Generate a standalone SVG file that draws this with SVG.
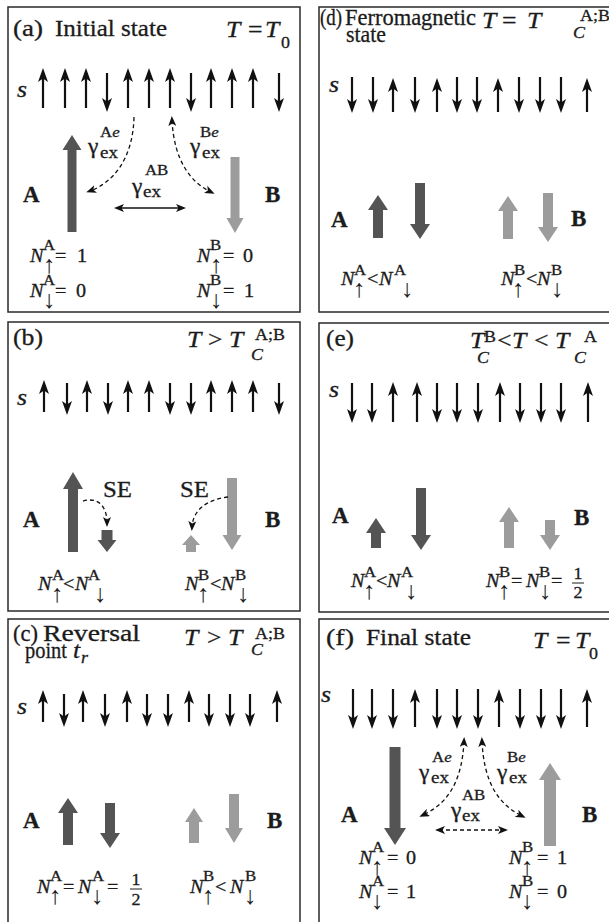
<svg xmlns="http://www.w3.org/2000/svg" width="609" height="922" viewBox="0 0 609 922" font-family="'Liberation Serif', serif">
<style>
.box{fill:none;stroke:#2a2a2a;stroke-width:1.5}
text{font-family:'Liberation Serif',serif;fill:#1b1b1b;stroke:#1b1b1b;stroke-width:0.3}
.ti{font-size:23px}
.tm{font-size:23px}
.it{font-style:italic}
.bd{font-weight:bold;font-size:23px}
.sm{font-size:16px}
.sup{font-size:15px}
.n{font-size:18px}
text.ar{font-size:25px;text-anchor:middle;stroke-width:0}
.g{font-size:21px}
.ex{font-size:17px}
.mid{text-anchor:middle}
.spin line{stroke:#111;stroke-width:2.2;marker-end:url(#sh)}
.dk{fill:#545454}
.lt{fill:#9c9c9c}
.dash{fill:none;stroke:#111;stroke-width:1.3;stroke-dasharray:4 3}
.solid{fill:none;stroke:#111;stroke-width:1.5}
.bar{stroke:#1b1b1b;stroke-width:1}
</style>
<defs>
<marker id="sh" viewBox="0 0 14 10" refX="9" refY="5" markerWidth="14" markerHeight="10" markerUnits="userSpaceOnUse" orient="auto"><path d="M0,0 L14,5 L0,10 L3.5,5 Z" fill="#111"/></marker>
<marker id="dh" viewBox="0 0 10 8" refX="6" refY="4" markerWidth="10" markerHeight="8" markerUnits="userSpaceOnUse" orient="auto-start-reverse"><path d="M0,0 L10,4 L0,8 L2.5,4 Z" fill="#111"/></marker>
</defs>
<rect width="609" height="922" fill="#fff"/>

<g id="panel-a">
<rect class="box" x="8" y="7" width="292" height="305"/>
<text class="ti" x="13" y="36" textLength="30" lengthAdjust="spacingAndGlyphs">(a)</text>
<text class="ti" x="55" y="36" textLength="112" lengthAdjust="spacingAndGlyphs">Initial state</text>
<text class="tm it" transform="matrix(1.12 0 0 1 226 37)">T</text><text class="tm" transform="matrix(1.12 0 0 1 248 37)">=</text><text class="tm it" transform="matrix(1.12 0 0 1 265 37)">T</text><text class="sm" transform="matrix(1.12 0 0 1 281 48)">0</text>
<text class="ti it" transform="matrix(1.12 0 0 1 17 97)">s</text>
<g class="spin">
<line x1="43" y1="108" x2="43" y2="73"/><line x1="65" y1="108" x2="65" y2="73"/><line x1="86" y1="108" x2="86" y2="73"/><line x1="107" y1="73" x2="107" y2="107"/>
<line x1="128" y1="108" x2="128" y2="73"/><line x1="149" y1="108" x2="149" y2="73"/><line x1="170" y1="108" x2="170" y2="73"/><line x1="191" y1="73" x2="191" y2="107"/>
<line x1="211" y1="108" x2="211" y2="73"/><line x1="232" y1="108" x2="232" y2="73"/><line x1="253" y1="108" x2="253" y2="73"/><line x1="279" y1="73" x2="279" y2="107"/>
</g>
<polygon class="dk" points="72,135 81.5,150 76.5,150 76.5,232 67.5,232 67.5,150 62.5,150"/>
<polygon class="lt" points="235,233 243.5,218 239.5,218 239.5,157 230.5,157 230.5,218 226.5,218"/>
<text class="bd" x="23" y="202">A</text><text class="bd" x="265" y="202">B</text>
<text class="sup" transform="matrix(1.12 0 0 1 100 137)">A<tspan class="it">e</tspan></text><text class="g" transform="matrix(1.12 0 0 1 88 153)">γ</text><text class="ex" transform="matrix(1.12 0 0 1 100 158)">ex</text>
<text class="sup" transform="matrix(1.12 0 0 1 200 137)">B<tspan class="it">e</tspan></text><text class="g" transform="matrix(1.12 0 0 1 190 153)">γ</text><text class="ex" transform="matrix(1.12 0 0 1 202 158)">ex</text>
<text class="sup" transform="matrix(1.12 0 0 1 145 175)">AB</text><text class="g" transform="matrix(1.12 0 0 1 132 193)">γ</text><text class="ex" transform="matrix(1.12 0 0 1 143 197)">ex</text>
<text class="n it" transform="matrix(1.12 0 0 1 30 262)">N</text><text class="sup" transform="matrix(1.12 0 0 1 43 250)">A</text><text class="ar" x="49" y="273">↑</text><text class="n" transform="matrix(1.12 0 0 1 55 262)">=</text><text class="n" transform="matrix(1.12 0 0 1 77 262)">1</text>
<text class="n it" transform="matrix(1.12 0 0 1 30 297)">N</text><text class="sup" transform="matrix(1.12 0 0 1 43 285)">A</text><text class="ar" x="49" y="308">↓</text><text class="n" transform="matrix(1.12 0 0 1 55 297)">=</text><text class="n" transform="matrix(1.12 0 0 1 76 297)">0</text>
<text class="n it" transform="matrix(1.12 0 0 1 197 262)">N</text><text class="sup" transform="matrix(1.12 0 0 1 210 250)">B</text><text class="ar" x="216" y="273">↑</text><text class="n" transform="matrix(1.12 0 0 1 223 262)">=</text><text class="n" transform="matrix(1.12 0 0 1 243 262)">0</text>
<text class="n it" transform="matrix(1.12 0 0 1 197 297)">N</text><text class="sup" transform="matrix(1.12 0 0 1 210 285)">B</text><text class="ar" x="216" y="308">↓</text><text class="n" transform="matrix(1.12 0 0 1 223 297)">=</text><text class="n" transform="matrix(1.12 0 0 1 244 297)">1</text>
</g>

<g id="panel-d">
<rect class="box" x="319" y="7" width="300" height="305"/>
<text class="ti" x="320" y="25" textLength="22" lengthAdjust="spacingAndGlyphs">(d)</text>
<text class="ti" x="345" y="25" textLength="131" lengthAdjust="spacingAndGlyphs">Ferromagnetic</text>
<text class="ti" x="346" y="42" textLength="40" lengthAdjust="spacingAndGlyphs">state</text>
<text class="tm it" transform="matrix(1.12 0 0 1 482 28)">T</text><text class="tm" transform="matrix(1.12 0 0 1 502 28)">=</text><text class="tm it" transform="matrix(1.12 0 0 1 527 28)">T</text><text class="sm it" transform="matrix(1.12 0 0 1 573 38)">C</text><text class="sm" transform="matrix(1.12 0 0 1 580 21)">A;B</text>
<text class="ti it" transform="matrix(1.12 0 0 1 329 92)">s</text>
<g class="spin">
<line x1="352" y1="77" x2="352" y2="108"/><line x1="373" y1="77" x2="373" y2="108"/><line x1="393" y1="112" x2="393" y2="83"/><line x1="415" y1="77" x2="415" y2="108"/>
<line x1="437" y1="112" x2="437" y2="83"/><line x1="457" y1="77" x2="457" y2="108"/><line x1="477" y1="77" x2="477" y2="108"/><line x1="498" y1="112" x2="498" y2="83"/>
<line x1="519" y1="77" x2="519" y2="108"/><line x1="540" y1="77" x2="540" y2="108"/><line x1="561" y1="77" x2="561" y2="108"/><line x1="587" y1="112" x2="587" y2="83"/>
</g>
<polygon class="dk" points="378,195 388,210 383,210 383,238 373,238 373,210 368,210"/>
<polygon class="dk" points="420,239 430,224 425,224 425,183 415,183 415,224 410,224"/>
<polygon class="lt" points="508,196 518,211 513,211 513,239 503,239 503,211 498,211"/>
<polygon class="lt" points="548,242 558,227 553,227 553,193 543,193 543,227 538,227"/>
<text class="bd" x="331" y="227">A</text><text class="bd" x="571" y="226">B</text>
<text class="n it" transform="matrix(1.12 0 0 1 341 285)">N</text><text class="sup" transform="matrix(1.12 0 0 1 354 275)">A</text><text class="ar" x="359" y="297">↑</text><text class="n" transform="matrix(1.12 0 0 1 367 285)">&lt;</text><text class="n it" transform="matrix(1.12 0 0 1 379 285)">N</text><text class="sup" transform="matrix(1.12 0 0 1 394 275)">A</text><text class="ar" x="407" y="297">↓</text>
<text class="n it" transform="matrix(1.12 0 0 1 501 285)">N</text><text class="sup" transform="matrix(1.12 0 0 1 514 275)">B</text><text class="ar" x="518" y="297">↑</text><text class="n" transform="matrix(1.12 0 0 1 526 285)">&lt;</text><text class="n it" transform="matrix(1.12 0 0 1 537 285)">N</text><text class="sup" transform="matrix(1.12 0 0 1 551 275)">B</text><text class="ar" x="557" y="297">↓</text>
</g>

<g id="panel-b">
<rect class="box" x="8" y="322" width="292" height="289"/>
<text class="ti" x="13" y="345" textLength="30" lengthAdjust="spacingAndGlyphs">(b)</text>
<text class="tm it" transform="matrix(1.12 0 0 1 187 347)">T</text><text class="tm" transform="matrix(1.12 0 0 1 208 347)">&gt;</text><text class="tm it" transform="matrix(1.12 0 0 1 229 347)">T</text><text class="sm it" transform="matrix(1.12 0 0 1 251 360)">C</text><text class="sm" transform="matrix(1.12 0 0 1 255 340)">A;B</text>
<text class="ti it" transform="matrix(1.12 0 0 1 17 405)">s</text>
<g class="spin">
<line x1="44" y1="412" x2="44" y2="385"/><line x1="67" y1="383" x2="67" y2="410"/><line x1="87" y1="412" x2="87" y2="385"/><line x1="108" y1="383" x2="108" y2="410"/>
<line x1="128" y1="412" x2="128" y2="385"/><line x1="149" y1="412" x2="149" y2="385"/><line x1="170" y1="383" x2="170" y2="410"/><line x1="191" y1="383" x2="191" y2="410"/>
<line x1="211" y1="412" x2="211" y2="385"/><line x1="232" y1="412" x2="232" y2="385"/><line x1="253" y1="412" x2="253" y2="385"/><line x1="279" y1="383" x2="279" y2="410"/>
</g>
<polygon class="dk" points="73,472 83,489 78,489 78,552 68,552 68,489 63,489"/>
<polygon class="dk" points="107,552 116.5,540 112.5,540 112.5,530 101.5,530 101.5,540 97.5,540"/>
<polygon class="lt" points="191,535 200,545 196,545 196,552 186,552 186,545 182,545"/>
<polygon class="lt" points="232,550 241.5,535 237,535 237,478 227,478 227,535 222.5,535"/>
<text class="bd" x="23" y="527">A</text><text class="bd" x="265" y="527">B</text>
<text class="ti" x="103" y="497" textLength="29" lengthAdjust="spacingAndGlyphs">SE</text><text class="ti" x="180" y="497" textLength="29" lengthAdjust="spacingAndGlyphs">SE</text>
<text class="n it" transform="matrix(1.12 0 0 1 38 590)">N</text><text class="sup" transform="matrix(1.12 0 0 1 52 580)">A</text><text class="ar" x="57" y="602">↑</text><text class="n" transform="matrix(1.12 0 0 1 63 590)">&lt;</text><text class="n it" transform="matrix(1.12 0 0 1 75 590)">N</text><text class="sup" transform="matrix(1.12 0 0 1 88 580)">A</text><text class="ar" x="100" y="602">↓</text>
<text class="n it" transform="matrix(1.12 0 0 1 185 590)">N</text><text class="sup" transform="matrix(1.12 0 0 1 198 580)">B</text><text class="ar" x="203" y="602">↑</text><text class="n" transform="matrix(1.12 0 0 1 210 590)">&lt;</text><text class="n it" transform="matrix(1.12 0 0 1 221 590)">N</text><text class="sup" transform="matrix(1.12 0 0 1 235 580)">B</text><text class="ar" x="243" y="602">↓</text>
</g>

<g id="panel-e">
<rect class="box" x="319" y="323" width="300" height="289"/>
<text class="ti" x="326" y="346" textLength="28" lengthAdjust="spacingAndGlyphs">(e)</text>
<text class="tm it" transform="matrix(1.12 0 0 1 470 348)">T</text><text class="sm it" transform="matrix(1.12 0 0 1 477 363)">C</text><text class="sm" transform="matrix(1.12 0 0 1 484 342)">B</text><text class="tm" transform="matrix(1.12 0 0 1 497 348)">&lt;</text><text class="tm it" transform="matrix(1.12 0 0 1 512 348)">T</text><text class="tm" transform="matrix(1.12 0 0 1 534 348)">&lt;</text><text class="tm it" transform="matrix(1.12 0 0 1 555 348)">T</text><text class="sm it" transform="matrix(1.12 0 0 1 574 363)">C</text><text class="sm" transform="matrix(1.12 0 0 1 584 342)">A</text>
<text class="ti it" transform="matrix(1.12 0 0 1 329 397)">s</text>
<g class="spin">
<line x1="352" y1="383" x2="352" y2="418"/><line x1="372" y1="383" x2="372" y2="418"/><line x1="393" y1="422" x2="393" y2="387"/><line x1="417" y1="422" x2="417" y2="387"/>
<line x1="437" y1="383" x2="437" y2="418"/><line x1="457" y1="383" x2="457" y2="418"/><line x1="478" y1="383" x2="478" y2="418"/><line x1="500" y1="422" x2="500" y2="387"/>
<line x1="520" y1="383" x2="520" y2="418"/><line x1="541" y1="383" x2="541" y2="418"/><line x1="561" y1="383" x2="561" y2="418"/><line x1="588" y1="422" x2="588" y2="387"/>
</g>
<polygon class="dk" points="376,518 386,533 381,533 381,548 371,548 371,533 366,533"/>
<polygon class="dk" points="421,550 431,535 426,535 426,488 416,488 416,535 411,535"/>
<polygon class="lt" points="509,507 519,522 514,522 514,548 504,548 504,522 499,522"/>
<polygon class="lt" points="550,550 560,535 555,535 555,520 545,520 545,535 540,535"/>
<text class="bd" x="332" y="523">A</text><text class="bd" x="574" y="525">B</text>
<text class="n it" transform="matrix(1.12 0 0 1 351 587)">N</text><text class="sup" transform="matrix(1.12 0 0 1 364 577)">A</text><text class="ar" x="369" y="599">↑</text><text class="n" transform="matrix(1.12 0 0 1 376 587)">&lt;</text><text class="n it" transform="matrix(1.12 0 0 1 387 587)">N</text><text class="sup" transform="matrix(1.12 0 0 1 401 577)">A</text><text class="ar" x="411" y="599">↓</text>
<text class="n it" transform="matrix(1.12 0 0 1 486 587)">N</text><text class="sup" transform="matrix(1.12 0 0 1 499 577)">B</text><text class="ar" x="504" y="599">↑</text><text class="n" transform="matrix(1.12 0 0 1 511 587)">=</text><text class="n it" transform="matrix(1.12 0 0 1 526 587)">N</text><text class="sup" transform="matrix(1.12 0 0 1 539 577)">B</text><text class="ar" x="545" y="599">↓</text><text class="n" transform="matrix(1.12 0 0 1 551 587)">=</text>
<text class="sm mid" transform="matrix(1.12 0 0 1 578 579)">1</text><line class="bar" x1="572" y1="583" x2="584" y2="583"/><text class="sm mid" transform="matrix(1.12 0 0 1 578 598)">2</text>
</g>

<g id="panel-c">
<rect class="box" x="8" y="619" width="292" height="310"/>
<text class="ti" x="13" y="641" textLength="25" lengthAdjust="spacingAndGlyphs">(c)</text>
<text class="ti" x="43" y="641" textLength="97" lengthAdjust="spacingAndGlyphs">Reversal</text>
<text class="ti" x="25" y="658" textLength="42" lengthAdjust="spacingAndGlyphs">point</text><text class="ti it" transform="matrix(1.12 0 0 1 73 658)">t</text><text class="sm it" transform="matrix(1.12 0 0 1 81 663)">r</text>
<text class="tm it" transform="matrix(1.12 0 0 1 184 645)">T</text><text class="tm" transform="matrix(1.12 0 0 1 207 645)">&gt;</text><text class="tm it" transform="matrix(1.12 0 0 1 228 645)">T</text><text class="sm it" transform="matrix(1.12 0 0 1 251 655)">C</text><text class="sm" transform="matrix(1.12 0 0 1 255 639)">A;B</text>
<text class="ti it" transform="matrix(1.12 0 0 1 17 714)">s</text>
<g class="spin">
<line x1="43" y1="722" x2="43" y2="695"/><line x1="64" y1="694" x2="64" y2="722"/><line x1="83" y1="722" x2="83" y2="695"/><line x1="105" y1="694" x2="105" y2="722"/>
<line x1="127" y1="722" x2="127" y2="695"/><line x1="147" y1="694" x2="147" y2="722"/><line x1="168" y1="694" x2="168" y2="722"/><line x1="189" y1="722" x2="189" y2="695"/>
<line x1="209" y1="694" x2="209" y2="722"/><line x1="230" y1="694" x2="230" y2="722"/><line x1="250" y1="694" x2="250" y2="722"/><line x1="277" y1="722" x2="277" y2="695"/>
</g>
<polygon class="dk" points="68,798 78,813 73,813 73,845 63,845 63,813 58,813"/>
<polygon class="dk" points="110,848 120,833 115,833 115,803 105,803 105,833 100,833"/>
<polygon class="lt" points="194,808 203,822 199,822 199,843 189,843 189,822 185,822"/>
<polygon class="lt" points="234,843 243,828 239,828 239,794 229,794 229,828 225,828"/>
<text class="bd" x="23" y="828">A</text><text class="bd" x="267" y="828">B</text>
<text class="n it" transform="matrix(1.12 0 0 1 37 893)">N</text><text class="sup" transform="matrix(1.12 0 0 1 50 881)">A</text><text class="ar" x="55" y="904">↑</text><text class="n" transform="matrix(1.12 0 0 1 63 893)">=</text><text class="n it" transform="matrix(1.12 0 0 1 78 893)">N</text><text class="sup" transform="matrix(1.12 0 0 1 92 881)">A</text><text class="ar" x="97" y="904">↓</text><text class="n" transform="matrix(1.12 0 0 1 107 893)">=</text>
<text class="sm mid" transform="matrix(1.12 0 0 1 136 885)">1</text><line class="bar" x1="130" y1="889" x2="142" y2="889"/><text class="sm mid" transform="matrix(1.12 0 0 1 136 905)">2</text>
<text class="n it" transform="matrix(1.12 0 0 1 190 893)">N</text><text class="sup" transform="matrix(1.12 0 0 1 203 881)">B</text><text class="ar" x="208" y="904">↑</text><text class="n" transform="matrix(1.12 0 0 1 215 893)">&lt;</text><text class="n it" transform="matrix(1.12 0 0 1 230 893)">N</text><text class="sup" transform="matrix(1.12 0 0 1 245 881)">B</text><text class="ar" x="250" y="904">↓</text>
</g>

<g id="panel-f">
<rect class="box" x="319" y="619" width="300" height="310"/>
<text class="ti" x="326" y="645" textLength="28" lengthAdjust="spacingAndGlyphs">(f)</text>
<text class="ti" x="366" y="645" textLength="105" lengthAdjust="spacingAndGlyphs">Final state</text>
<text class="tm it" transform="matrix(1.12 0 0 1 533 648)">T</text><text class="tm" transform="matrix(1.12 0 0 1 556 648)">=</text><text class="tm it" transform="matrix(1.12 0 0 1 575 648)">T</text><text class="sm" transform="matrix(1.12 0 0 1 589 659)">0</text>
<text class="ti it" transform="matrix(1.12 0 0 1 321 702)">s</text>
<g class="spin">
<line x1="353" y1="689" x2="353" y2="724"/><line x1="372" y1="689" x2="372" y2="724"/><line x1="393" y1="689" x2="393" y2="724"/><line x1="415" y1="727" x2="415" y2="694"/>
<line x1="437" y1="689" x2="437" y2="724"/><line x1="457" y1="689" x2="457" y2="724"/><line x1="478" y1="689" x2="478" y2="724"/><line x1="499" y1="727" x2="499" y2="694"/>
<line x1="520" y1="689" x2="520" y2="724"/><line x1="541" y1="689" x2="541" y2="724"/><line x1="561" y1="689" x2="561" y2="724"/><line x1="587" y1="727" x2="587" y2="694"/>
</g>
<polygon class="dk" points="395,845 406,828 400.5,828 400.5,747 389.5,747 389.5,828 384,828"/>
<polygon class="lt" points="550,763 561,780 556,780 556,846 544,846 544,780 539,780"/>
<text class="bd" x="341" y="822">A</text><text class="bd" x="582" y="822">B</text>
<text class="sup" transform="matrix(1.12 0 0 1 432 762)">A<tspan class="it">e</tspan></text><text class="g" transform="matrix(1.12 0 0 1 419 779)">γ</text><text class="ex" transform="matrix(1.12 0 0 1 431 783)">ex</text>
<text class="sup" transform="matrix(1.12 0 0 1 507 762)">B<tspan class="it">e</tspan></text><text class="g" transform="matrix(1.12 0 0 1 497 779)">γ</text><text class="ex" transform="matrix(1.12 0 0 1 509 783)">ex</text>
<text class="sup" transform="matrix(1.12 0 0 1 462 800)">AB</text><text class="g" transform="matrix(1.12 0 0 1 451 817)">γ</text><text class="ex" transform="matrix(1.12 0 0 1 462 821)">ex</text>
<text class="n it" transform="matrix(1.12 0 0 1 359 864)">N</text><text class="sup" transform="matrix(1.12 0 0 1 372 852)">A</text><text class="ar" x="377" y="875">↑</text><text class="n" transform="matrix(1.12 0 0 1 387 864)">=</text><text class="n" transform="matrix(1.12 0 0 1 406 864)">0</text>
<text class="n it" transform="matrix(1.12 0 0 1 359 898)">N</text><text class="sup" transform="matrix(1.12 0 0 1 372 886)">A</text><text class="ar" x="377" y="909">↓</text><text class="n" transform="matrix(1.12 0 0 1 387 898)">=</text><text class="n" transform="matrix(1.12 0 0 1 406 898)">1</text>
<text class="n it" transform="matrix(1.12 0 0 1 509 864)">N</text><text class="sup" transform="matrix(1.12 0 0 1 522 852)">B</text><text class="ar" x="527" y="875">↑</text><text class="n" transform="matrix(1.12 0 0 1 537 864)">=</text><text class="n" transform="matrix(1.12 0 0 1 557 864)">1</text>
<text class="n it" transform="matrix(1.12 0 0 1 509 898)">N</text><text class="sup" transform="matrix(1.12 0 0 1 522 886)">B</text><text class="ar" x="527" y="909">↓</text><text class="n" transform="matrix(1.12 0 0 1 537 898)">=</text><text class="n" transform="matrix(1.12 0 0 1 557 898)">0</text>
</g>

<g id="connectors">
<path class="dash" d="M134,117 C133,160 112,183 90,191" marker-end="url(#dh)"/>
<path class="dash" d="M172,120 C174,160 190,182 211,192" marker-start="url(#dh)" marker-end="url(#dh)"/>
<path class="solid" d="M118,208 L182,208" marker-start="url(#dh)" marker-end="url(#dh)"/>
<path class="dash" d="M83,501 C97,497 107,505 107,523" marker-end="url(#dh)"/>
<path class="dash" d="M228,497 C210,499 193,508 192,527" marker-end="url(#dh)"/>
<path class="dash" d="M464,741 C462,785 445,805 423,815" marker-start="url(#dh)" marker-end="url(#dh)"/>
<path class="dash" d="M482,741 C484,785 500,805 522,816" marker-start="url(#dh)" marker-end="url(#dh)"/>
<path class="dash" d="M439,830 L504,830" marker-start="url(#dh)" marker-end="url(#dh)"/>
</g>
</svg>
